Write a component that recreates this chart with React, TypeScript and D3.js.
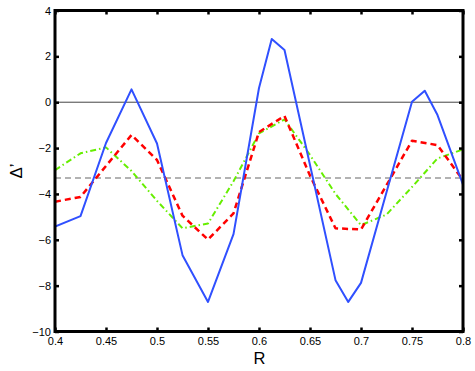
import React, { useEffect, useRef } from 'react';
import * as d3 from 'd3';

// R grid and Δ' values
const blueR = [0.4, 0.425, 0.45, 0.475, 0.5, 0.525, 0.55, 0.575, 0.6, 0.6125, 0.625, 0.65, 0.675, 0.6875, 0.7, 0.725, 0.75, 0.7625, 0.775, 0.8];
const blueD = [-5.42, -4.97, -1.78, 0.56, -1.8, -6.67, -8.71, -5.75, 0.62, 2.76, 2.28, -2.74, -7.76, -8.71, -7.88, -3.93, 0.02, 0.5, -0.56, -3.6];

const redR = [0.4, 0.425, 0.45, 0.475, 0.5, 0.525, 0.55, 0.575, 0.6, 0.625, 0.65, 0.675, 0.7, 0.725, 0.75, 0.775, 0.8];
const redD = [-4.34, -4.13, -2.78, -1.43, -2.52, -4.95, -5.99, -4.85, -1.3, -0.6, -3.2, -5.5, -5.55, -3.62, -1.68, -1.87, -3.4];

const greenR = [0.4, 0.425, 0.45, 0.475, 0.5, 0.525, 0.55, 0.575, 0.6, 0.625, 0.65, 0.675, 0.7, 0.725, 0.75, 0.775, 0.8];
const greenD = [-2.96, -2.23, -1.97, -3.0, -4.3, -5.5, -5.29, -3.45, -1.36, -0.75, -2.3, -4.0, -5.36, -4.9, -3.7, -2.45, -2.06];

const refLevel = -3.3; // grey dashed line

const xTicks = [0.4, 0.45, 0.5, 0.55, 0.6, 0.65, 0.7, 0.75, 0.8];
const xTickLabels = ['0.4', '0.45', '0.5', '0.55', '0.6', '0.65', '0.7', '0.75', '0.8'];
const yTicks = [4, 2, 0, -2, -4, -6, -8, -10];
const yTickLabels = ['4', '2', '0', '\u22122', '\u22124', '\u22126', '\u22128', '\u221210'];

const width = 475;
const height = 371;
const margin = { top: 10.5, right: 12, bottom: 39.5, left: 55 };

const App = () => {
  const svgRef = useRef(null);

  useEffect(() => {
    const svg = d3.select(svgRef.current);
    svg.selectAll('*').remove();

    const x = d3.scaleLinear().domain([0.4, 0.8]).range([margin.left, width - margin.right]);
    const y = d3.scaleLinear().domain([-10, 4]).range([height - margin.bottom, margin.top]);

    const font = 'Liberation Sans, Arial, Helvetica, sans-serif';

    // reference lines
    svg.append('line')
      .attr('x1', x(0.4)).attr('x2', x(0.8))
      .attr('y1', y(0)).attr('y2', y(0))
      .attr('stroke', '#444').attr('stroke-width', 1);

    svg.append('line')
      .attr('x1', x(0.4)).attr('x2', x(0.8))
      .attr('y1', y(refLevel)).attr('y2', y(refLevel))
      .attr('stroke', '#999').attr('stroke-width', 1.5)
      .attr('stroke-dasharray', '6,4');

    const line = d3.line<[number, number]>()
      .x(d => x(d[0]))
      .y(d => y(d[1]));

    const series = [
      { r: greenR, d: greenD, color: '#66ee00', w: 2, dash: '6,3,1.5,3' },
      { r: redR, d: redD, color: '#ff0000', w: 2.5, dash: '6,4' },
      { r: blueR, d: blueD, color: '#3050ff', w: 2, dash: null },
    ];

    svg.append('clipPath').attr('id', 'plotclip')
      .append('rect')
      .attr('x', x(0.4)).attr('y', y(4))
      .attr('width', x(0.8) - x(0.4)).attr('height', y(-10) - y(4));

    series.forEach(s => {
      const pts = s.r.map((r, i) => [r, s.d[i]] as [number, number]);
      svg.append('path')
        .datum(pts)
        .attr('d', line)
        .attr('fill', 'none')
        .attr('stroke', s.color)
        .attr('stroke-width', s.w)
        .attr('stroke-linejoin', 'round')
        .attr('stroke-dasharray', s.dash)
        .attr('clip-path', 'url(#plotclip)');
    });

    // axes: ticks point inward, labels only bottom/left
    const bottom = svg.append('g')
      .attr('transform', `translate(0,${y(-10)})`)
      .call(d3.axisBottom(x).tickValues(xTicks).tickSize(-4).tickPadding(6)
        .tickFormat((d, i) => xTickLabels[i]));
    const top = svg.append('g')
      .attr('transform', `translate(0,${y(4)})`)
      .call(d3.axisTop(x).tickValues(xTicks).tickSize(-4).tickFormat(() => ''));
    const left = svg.append('g')
      .attr('transform', `translate(${x(0.4)},0)`)
      .call(d3.axisLeft(y).tickValues(yTicks).tickSize(-4).tickPadding(4)
        .tickFormat((d, i) => yTickLabels[i]));
    const right = svg.append('g')
      .attr('transform', `translate(${x(0.8)},0)`)
      .call(d3.axisRight(y).tickValues(yTicks).tickSize(-4).tickFormat(() => ''));

    [bottom, top, left, right].forEach(g => {
      g.select('.domain').remove();
      g.selectAll('line').attr('stroke', '#000').attr('stroke-width', 2.5);
      g.selectAll('text')
        .attr('fill', '#000')
        .attr('font-family', font)
        .attr('font-size', 11);
    });

    // frame
    svg.append('rect')
      .attr('x', x(0.4)).attr('y', y(4))
      .attr('width', x(0.8) - x(0.4)).attr('height', y(-10) - y(4))
      .attr('fill', 'none')
      .attr('stroke', '#000')
      .attr('stroke-width', 3);

    // axis labels
    svg.append('text')
      .attr('x', (x(0.4) + x(0.8)) / 2 + 0.5)
      .attr('y', 364)
      .attr('text-anchor', 'middle')
      .attr('font-family', font)
      .attr('font-size', 16.5)
      .text('R');

    svg.append('text')
      .attr('transform', `translate(22,${(y(4) + y(-10)) / 2}) rotate(-90)`)
      .attr('text-anchor', 'middle')
      .attr('font-family', font)
      .attr('font-size', 17)
      .text('\u0394\u2019');
  }, []);

  return (
    <svg ref={svgRef} width={width} height={height}
      style={{ position: 'absolute', left: 0, top: 0, background: '#fff' }} />
  );
};

export default App;
